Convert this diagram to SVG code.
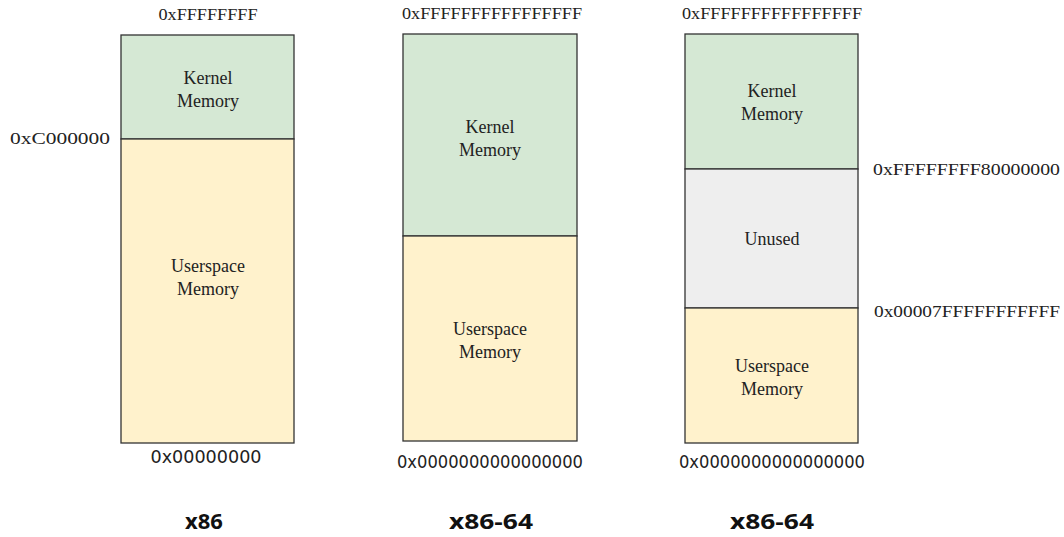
<svg xmlns="http://www.w3.org/2000/svg" width="1064" height="537" viewBox="0 0 1064 537">
<style>
.box{stroke:#333;stroke-width:1.3}
.k{fill:#d5e8d4}.u{fill:#fff2cc}.n{fill:#eeeeee}
.t{font-family:"Liberation Serif","DejaVu Serif",serif;font-size:18px;fill:#222;text-anchor:middle}
.x{font-family:"Liberation Serif","DejaVu Serif",serif;font-size:17px;fill:#222;text-anchor:middle}
.a{font-family:"Liberation Serif","DejaVu Serif",serif;font-size:17px;fill:#222}
.b{font-family:"DejaVu Sans","Liberation Sans",sans-serif;font-stretch:condensed;font-size:17px;fill:#222;text-anchor:middle}
.h{font-family:"Open Sans","DejaVu Sans",sans-serif;font-weight:bold;font-size:22px;fill:#111;text-anchor:middle}
</style>
<rect width="1064" height="537" fill="#fff"/>
<g id="x86">
<rect class="box k" x="121" y="35" width="173" height="104"/>
<rect class="box u" x="121" y="139" width="173" height="304"/>
<text class="x" x="208" y="20" textLength="99" lengthAdjust="spacingAndGlyphs">0xFFFFFFFF</text>
<text class="t" x="208" y="84">Kernel</text>
<text class="t" x="208" y="107">Memory</text>
<text class="a" x="10" y="144" textLength="100" lengthAdjust="spacingAndGlyphs">0xC000000</text>
<text class="t" x="208" y="272">Userspace</text>
<text class="t" x="208" y="295">Memory</text>
<text class="b" x="206" y="463" textLength="111" lengthAdjust="spacingAndGlyphs">0x00000000</text>
<text class="h" x="204" y="529">x86</text>
</g>
<g id="x86-64a">
<rect class="box k" x="403" y="34" width="174" height="202"/>
<rect class="box u" x="403" y="236" width="174" height="205"/>
<text class="x" x="492" y="19" textLength="180" lengthAdjust="spacingAndGlyphs">0xFFFFFFFFFFFFFFFF</text>
<text class="t" x="490" y="133">Kernel</text>
<text class="t" x="490" y="156">Memory</text>
<text class="t" x="490" y="335">Userspace</text>
<text class="t" x="490" y="358">Memory</text>
<text class="b" x="490" y="468" textLength="186" lengthAdjust="spacingAndGlyphs">0x0000000000000000</text>
<text class="h" x="491" y="529" textLength="84" lengthAdjust="spacingAndGlyphs">x86-64</text>
</g>
<g id="x86-64b">
<rect class="box k" x="685" y="34" width="173" height="135"/>
<rect class="box n" x="685" y="169" width="173" height="139"/>
<rect class="box u" x="685" y="308" width="173" height="135"/>
<text class="x" x="772" y="19" textLength="180" lengthAdjust="spacingAndGlyphs">0xFFFFFFFFFFFFFFFF</text>
<text class="t" x="772" y="97">Kernel</text>
<text class="t" x="772" y="120">Memory</text>
<text class="t" x="772" y="245">Unused</text>
<text class="t" x="772" y="372">Userspace</text>
<text class="t" x="772" y="395">Memory</text>
<text class="a" x="873" y="175" textLength="187" lengthAdjust="spacingAndGlyphs">0xFFFFFFFF80000000</text>
<text class="a" x="874" y="317" textLength="186" lengthAdjust="spacingAndGlyphs">0x00007FFFFFFFFFFF</text>
<text class="b" x="772" y="468" textLength="186" lengthAdjust="spacingAndGlyphs">0x0000000000000000</text>
<text class="h" x="772" y="529" textLength="84" lengthAdjust="spacingAndGlyphs">x86-64</text>
</g>
</svg>
